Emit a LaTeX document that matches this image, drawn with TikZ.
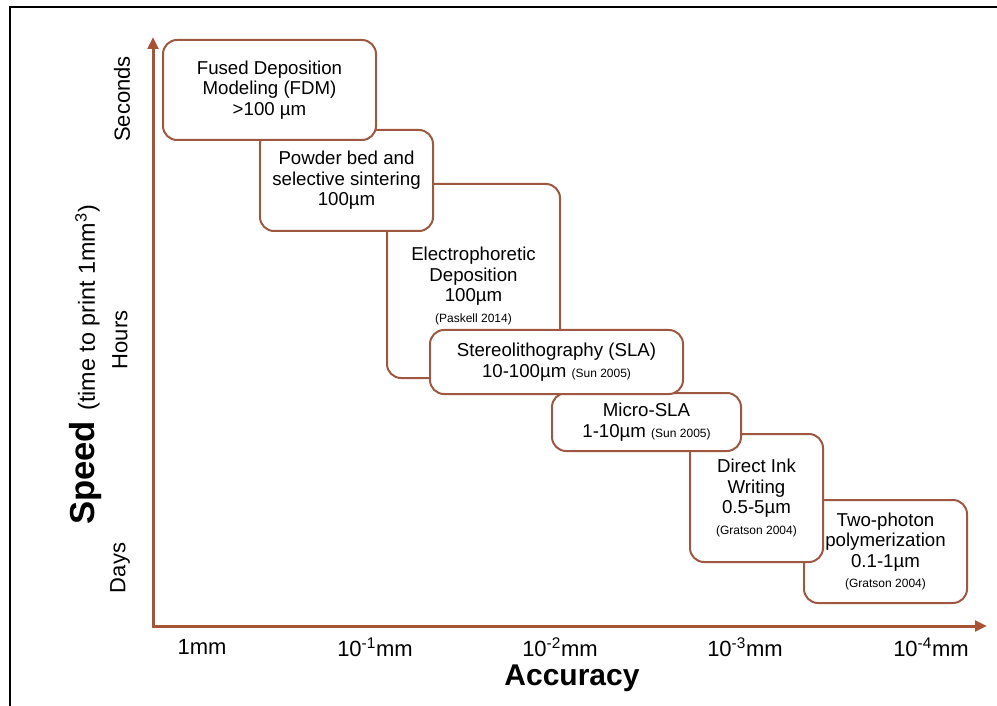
\documentclass[tikz,border=0pt]{standalone}
\usepackage{fontspec}
\setmainfont{Liberation Sans}
\usetikzlibrary{arrows.meta}

\definecolor{axisbrown}{RGB}{166,84,52}
\definecolor{boxbrown}{RGB}{158,88,66}

\newcommand{\boxfont}{\fontsize{14}{15.4}\selectfont}
\newcommand{\reffont}{\fontsize{9}{10}\selectfont}

\tikzset{every picture/.style={line width=0.75pt}}
\tikzset{
  procbox/.style={draw=boxbrown, line width=1.5pt, fill=white, rounded corners=10.5pt, inner sep=0pt, align=center, font=\boxfont},
  axisline/.style={draw=axisbrown, line width=2.25pt, line join=miter},
  ticklabel/.style={inner sep=0.75pt, font=\fontsize{16.5}{19}\selectfont},
}

\begin{document}
\begin{tikzpicture}[x=0.75pt,y=0.75pt,yscale=-1,xscale=1]
\useasboundingbox (0,0) rectangle (997,706);

%Straight Lines [id:frame]
\draw [line width=1.5pt]  (10,706) -- (10,7.5) -- (997,7.5) ;

%Shape: Axis 2D [id:axes]
\coordinate (origin) at (153,626);
\coordinate (ytop) at (153,37);
\coordinate (xend) at (987,626);
\draw [axisline, {Triangle[length=9pt,width=8pt]}-{Triangle[length=9pt,width=8pt]}]  (ytop) -- (origin) -- (xend) ;

%Shape: Rounded Rect [id:twophoton]
\node [procbox, minimum width=122.25pt, minimum height=77.25pt] (twophoton) at (885.5,551.5) {Two-photon\\polymerization\\0.1-1µm\\{\reffont (Gratson 2004)}};
%Shape: Rounded Rect [id:directink]
\node [procbox, minimum width=99.75pt, minimum height=96pt] (directink) at (756.5,498) {Direct Ink\\Writing\\0.5-5µm\\{\reffont (Gratson 2004)}};
%Shape: Rounded Rect [id:microsla]
\node [procbox, minimum width=141.75pt, minimum height=43.5pt] (microsla) at (646.5,422) {Micro-SLA\\1-10µm {\reffont (Sun 2005)}};
%Shape: Rounded Rect [id:electro]
\node [procbox, minimum width=129.75pt, minimum height=145.5pt] (electro) at (473.5,281) {};
%Shape: Rounded Rect [id:sla]
\node [procbox, minimum width=189.75pt, minimum height=48pt] (sla) at (556.5,362) {Stereolithography (SLA)\\10-100µm {\reffont (Sun 2005)}};
%Shape: Rounded Rect [id:powder]
\node [procbox, minimum width=129.75pt, minimum height=75.75pt] (powder) at (346.5,180.5) {Powder bed and\\selective sintering\\100µm};
%Shape: Rounded Rect [id:fdm]
\node [procbox, minimum width=159.75pt, minimum height=75pt] (fdm) at (269.5,90) {Fused Deposition\\Modeling (FDM)\\>100 µm};

% Text Node
\node [inner sep=0pt, align=center, font=\boxfont] (electrotext) at (473.5,286) {Electrophoretic\\Deposition\\100µm\\{\reffont (Paskell 2014)}};

% Text Node
\node [ticklabel] (t0) at (202,647) {1mm};
% Text Node
\node [ticklabel] (t1) at (375,647) {10\textsuperscript{-1}mm};
% Text Node
\node [ticklabel] (t2) at (560,647) {10\textsuperscript{-2}mm};
% Text Node
\node [ticklabel] (t3) at (745,647) {10\textsuperscript{-3}mm};
% Text Node
\node [ticklabel] (t4) at (931,647) {10\textsuperscript{-4}mm};
% Text Node
\node [inner sep=0.75pt, font=\fontsize{22.5}{26}\selectfont\bfseries] (xlabel) at (572,678) {Accuracy};

% Text Node
\node [ticklabel, rotate=90] (seconds) at (122,99) {Seconds};
% Text Node
\node [ticklabel, rotate=90] (hours) at (120,340) {Hours};
% Text Node
\node [ticklabel, rotate=90] (days) at (120,568) {Days};
% Text Node
\node [inner sep=0.75pt, rotate=90, font=\fontsize{17.5}{20}\selectfont] (ylabel) at (86,365) {{\fontsize{26}{30}\selectfont\bfseries Speed}\, (time to print 1mm\textsuperscript{3})};

\end{tikzpicture}
\end{document}
